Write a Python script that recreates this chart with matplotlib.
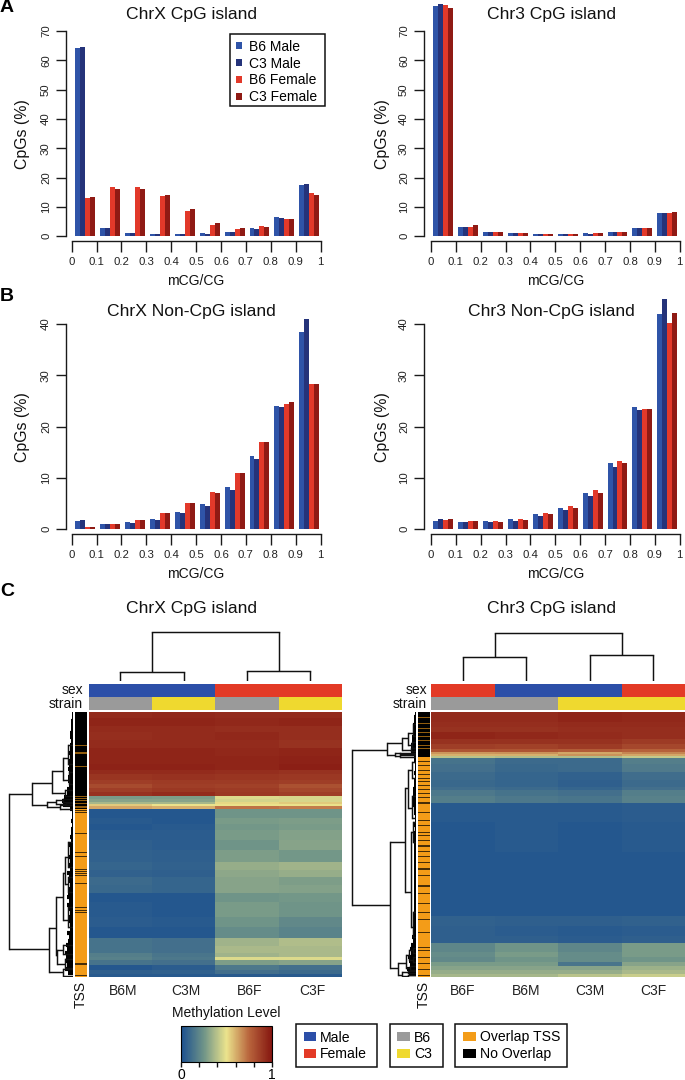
import numpy as np
import matplotlib
matplotlib.use("Agg")
import matplotlib.pyplot as plt
from matplotlib.colors import LinearSegmentedColormap
from matplotlib.patches import Patch, Rectangle
from matplotlib.cm import ScalarMappable

plt.rcParams['font.family'] = ['Liberation Sans', 'DejaVu Sans']

W, H = 685, 1080
# ---------- bar data ----------
bins = [0, .1, .2, .3, .4, .5, .6, .7, .8, .9]
bin_labels = ['0', '0.1', '0.2', '0.3', '0.4', '0.5', '0.6', '0.7', '0.8', '0.9', '1']
series_names = ['B6 Male', 'C3 Male', 'B6 Female', 'C3 Female']
series_colors = ['#2f54a8', '#25337a', '#e2392a', '#8f1a14']

chrx_cpg = [[64.1, 2.7, 1.2, 0.9, 0.8, 1.0, 1.5, 2.9, 6.6, 17.5],
            [64.7, 2.7, 1.0, 0.9, 0.8, 0.9, 1.4, 2.5, 6.3, 18.0],
            [13.2, 16.9, 16.7, 13.9, 8.5, 3.9, 2.6, 3.4, 5.9, 14.6],
            [13.3, 16.1, 16.2, 14.0, 9.3, 4.4, 2.9, 3.2, 6.0, 14.1]]
chr3_cpg = [[78.4, 3.3, 1.5, 1.0, 0.9, 0.8, 1.0, 1.6, 3.0, 8.0],
            [79.1, 3.3, 1.5, 1.0, 0.8, 0.7, 0.8, 1.5, 2.7, 8.0],
            [78.9, 3.2, 1.4, 1.1, 0.9, 0.8, 1.0, 1.5, 2.9, 8.0],
            [77.8, 3.7, 1.6, 1.1, 0.9, 0.8, 1.1, 1.5, 2.9, 8.4]]
chrx_non = [[1.6, 1.0, 1.4, 2.1, 3.4, 4.9, 8.2, 14.3, 24.0, 38.5],
            [1.8, 1.0, 1.2, 1.8, 3.1, 4.5, 7.6, 13.6, 23.8, 41.0],
            [0.5, 1.0, 1.9, 3.2, 5.2, 7.2, 10.9, 17.0, 24.5, 28.3],
            [0.5, 1.0, 1.9, 3.2, 5.1, 7.0, 10.9, 17.0, 24.8, 28.4]]
chr3_non = [[1.7, 1.4, 1.7, 2.0, 2.9, 4.1, 7.0, 13.0, 23.8, 41.9],
            [2.0, 1.5, 1.4, 1.7, 2.6, 3.7, 6.4, 12.2, 23.3, 44.8],
            [1.9, 1.6, 1.7, 2.1, 3.2, 4.5, 7.6, 13.4, 23.5, 40.1],
            [2.0, 1.6, 1.5, 1.9, 2.9, 4.2, 7.0, 12.9, 23.5, 42.2]]

# ---------- heat map data: row bands (top to bottom) ----------
x_edges = [0, 6, 14, 20, 28, 36, 44, 52, 58, 62, 68, 72, 76, 80, 84, 87, 90, 92, 94, 97,
           106, 112, 118, 128, 138, 150, 158, 165, 173, 181, 190, 205, 215, 226, 234, 241,
           245, 248, 253, 258, 262, 265]
x_b6m = [.93, .95, .93, .92, .93, .95, .95, .96, .93, .90, .87, .83, .87, .91, .27, .30, .36, .55, .62,
         .03, .04, .03, .05, .06, .07, .08, .07, .10, .09, .03, .04, .05, .03, .13, .13, .17, .18, .13, .03, .06, .04]
x_c3m = [.94, .95, .93, .93, .93, .95, .95, .96, .93, .91, .88, .87, .89, .93, .28, .30, .36, .50, .60,
         .03, .03, .04, .05, .05, .06, .07, .06, .08, .08, .03, .03, .04, .03, .12, .12, .14, .15, .12, .05, .07, .04]
x_b6f = [.93, .94, .92, .94, .93, .94, .95, .95, .92, .90, .88, .86, .88, .89, .47, .45, .52, .50, .72,
         .25, .27, .26, .27, .25, .28, .33, .31, .30, .30, .25, .27, .25, .22, .35, .37, .35, .47, .28, .15, .12, .04]
x_c3f = [.93, .95, .92, .92, .91, .95, .96, .97, .91, .89, .87, .81, .84, .87, .46, .46, .55, .50, .70,
         .25, .28, .27, .29, .30, .26, .35, .33, .28, .29, .26, .25, .21, .19, .38, .37, .37, .47, .30, .12, .10, .04]
x_tss_overlap = [(33, .7), (40.5, 1.2), (54.5, .7), (76.7, .7), (84, 1), (86, 1), (88, 1), (91.5, .8), (94.5, 1.3)]
x_tss_black = [(98, 1), (100.5, .6), (104, .6), (108.7, .8), (112, .6), (116, .6), (121, .7), (124.7, .6), (129.7, .7),
               (132, .6), (136, .6), (140, .7), (144, .7), (157.5, .7), (159.5, .8), (161.5, .8), (163.5, .7),
               (171, .7), (176, .7), (193, .7), (195.5, .8), (198, .8), (200.5, .8), (203, .7), (209, .7), (213, .7),
               (219, .7), (225, .7), (239, .7), (243, .7), (251, 2.6), (259, .7), (263, .8)]
x_leaf_len = [1, 1, 2, 2, 2, 3, 3, 2, 3, 3, 4, 3, 4, 4, 5, 4, 5, 5, 4, 6, 6, 9, 11, 10, 3, 1, 1, 2, 1, 2,
              2, 3, 2, 4, 3, 3, 5, 3, 4, 3, 6, 4, 5, 3, 5, 5, 6, 4, 6, 4, 3, 5, 4, 3, 3, 6, 4, 5, 7, 6, 8, 7, 8, 6, 8, 5]
x_tree = (0, 64, [
    (82, 41.3, [
        (71, 21.3, [
            (58.7, 10.3, [
                (46, 5, [(33, 0, []), (52, 0, [])]),
                (68, 4, [(60, 0, []), (72, 0, [])])]),
            (81, 8, [(78, 0, []), (84, 0, [])])]),
        (93, 25.7, [
            (89.7, 17, [
                (88, 10, [(87, 0, []), (90, 0, [])]),
                (92, 7, [(91, 0, []), (93, 0, [])])]),
            (94.7, 13, [(93, 0, []), (97, 0, [])])])]),
    (237, 24, [
        (216, 17.3, [
            (185, 10.3, [
                (161, 8, [
                    (145, 5, [(130, 0, []), (155, 0, [])]),
                    (172, 5, [(165, 0, []), (180, 0, [])])]),
                (208, 5, [(195, 0, []), (215, 0, [])])]),
            (243, 15.7, [
                (238, 10, [(233, 0, []), (242, 0, [])]),
                (252, 8, [(247, 0, []), (256, 0, [])])])]),
        (260, 10, [(257, 0, []), (264, 0, [])])])])

r_edges = [0, 10, 15, 20, 27, 32, 37, 40, 42, 44, 46, 52, 60, 68, 75, 78, 84, 91, 110, 140, 175, 204, 214, 224, 231,
           240, 245, 250, 254, 258, 262, 265]
r_b6f = [.93, .92, .91, .95, .91, .87, .80, .65, .60, .40, .13, .12, .10, .09, .11, .15, .17, .04, .03, .03, .03, .07,
         .06, .06, .20, .22, .21, .27, .30, .33, .36]
r_b6m = [.93, .92, .91, .94, .91, .86, .80, .66, .60, .38, .10, .09, .08, .08, .10, .13, .15, .04, .04, .03, .03, .06,
         .05, .06, .25, .27, .25, .27, .30, .33, .36]
r_c3m = [.95, .93, .92, .93, .91, .88, .78, .62, .66, .38, .10, .10, .07, .06, .08, .12, .14, .04, .03, .03, .03, .06,
         .04, .05, .20, .22, .22, .14, .30, .33, .40]
r_c3f = [.94, .93, .92, .92, .88, .84, .76, .68, .62, .42, .17, .16, .11, .10, .12, .17, .18, .05, .04, .03, .03, .07,
         .05, .06, .27, .27, .25, .30, .34, .37, .43]
r_tss_overlap = [(5, .7), (11, .8), (16, .8), (20, .7), (24, .6), (28, .6), (33, .6), (36, .7)]
r_tss_black = [(49, .6), (53, .6), (58, .6), (62, .7), (66, .6), (69, .7), (73, .7), (77, .8), (81, .8), (85, .8),
               (90, 2), (100, .8), (108, 1.5), (113, 1.5), (120, .8), (123, 1.5), (128, 1), (133, 2), (139, 1.5), (144, 1),
               (150, 1), (156, 2), (163, 1), (173, 2), (181, .8), (191, .8), (200, .8), (207, 1), (220, 1), (227, .7),
               (235, 1.5), (238, 1.5), (245, 1), (251, .8), (257, 1), (263, .8)]
r_leaf_len = [1, 2, 2, 3, 3, 3, 4, 4, 5, 5, 5, 2, 2, 1, 1, 2, 1, 2, 2, 3, 3, 3, 3, 3, 2, 2, 1, 1, 2, 1, 2, 2, 2, 2, 2, 2,
              2, 2, 2, 2, 2, 2, 2, 2, 2, 2, 2, 2, 2, 2, 2, 2, 2, 3, 3, 3, 4, 3, 5, 6, 5, 8, 7, 6, 9, 7]
r_tree = (0, 64.6, [
    (38, 29, [
        (31.3, 14.6, [
            (26, 8.6, [
                (21, 3, [(12, 0, []), (24, 0, [])]),
                (33, 4, [(30, 0, []), (36, 0, [])])]),
            (38, 5, [(36, 0, []), (39, 0, [])])]),
        (43, 21, [(41.5, 16, [(41, 0, []), (42, 0, [])]), (44, 16, [(43.5, 0, []), (45, 0, [])])])]),
    (193, 26.3, [
        (130, 11, [
            (76, 8.3, [(58, 4, [(50, 0, []), (66, 0, [])]), (96, 4, [(84, 0, []), (106, 0, [])])]),
            (180, 5.6, [(120, 3, [(110, 0, []), (130, 0, [])]), (215, 3, [(200, 0, []), (225, 0, [])])])]),
        (256, 18, [
            (251, 10.3, [
                (243, 7, [(238, 3, [(236, 0, []), (241, 0, [])]), (248, 3, [(245, 0, []), (250, 0, [])])]),
                (256, 6, [(254, 0, []), (258, 0, [])])]),
            (263, 14, [(260, 8, [(259, 0, []), (261, 0, [])]), (264, 8, [(263, 0, []), (265, 0, [])])])])])])

# column dendrograms: (position in columns, height, children)
x_col_tree = (0, 48.4, [(1.0, 8.4, [(.5, 0, []), (1.5, 0, [])]), (3.0, 10, [(2.5, 0, []), (3.5, 0, [])])])
r_col_tree = (0, 48, [(1.0, 24, [(.5, 0, []), (1.5, 0, [])]), (3.0, 26, [(2.5, 0, []), (3.5, 0, [])])])

x_cols = ['B6M', 'C3M', 'B6F', 'C3F']
r_cols = ['B6F', 'B6M', 'C3M', 'C3F']
sex_colors = {'M': '#2c4fa8', 'F': '#e33a26'}
strain_colors = {'B6': '#9a9a9a', 'C3': '#efd92f'}
tss_colors = {'overlap': '#f39c18', 'none': '#000000'}

cmap = LinearSegmentedColormap.from_list('meth', [(0, '#1b4f8f'), (.25, '#6f9488'), (.5, '#ebe38c'),
                                                  (.75, '#b8643c'), (1, '#851610')])

fig = plt.figure(figsize=(W / 100, H / 100), dpi=100)


def pax(x0, x1, y0, y1):
    return fig.add_axes([x0 / W, 1 - y1 / H, (x1 - x0) / W, (y1 - y0) / H])


def ptext(x, y, s, **kw):
    kw.setdefault('ha', 'center')
    kw.setdefault('va', 'center')
    fig.text(x / W, 1 - y / H, s, **kw)


def pbox(x0, x1, y0, y1):
    fig.add_artist(Rectangle((x0 / W, 1 - y1 / H), (x1 - x0) / W, (y1 - y0) / H, transform=fig.transFigure,
                             facecolor='white', edgecolor='#111111', lw=1.1, zorder=3))


def barpanel(x0, x1, y0, y1, ymax, data, title, tx, ty, offset, axis_gap):
    ax = pax(x0, x1, y1, y0)
    width = .02
    for i, (vals, c, n) in enumerate(zip(data, series_colors, series_names)):
        ax.bar(np.array(bins) + offset + i * width, vals, width, align='edge', color=c, lw=0, clip_on=False, label=n)
    ax.set_xlim(0, 1)
    ax.set_ylim(0, ymax)
    ax.patch.set_alpha(0)
    for s in ('top', 'right'):
        ax.spines[s].set_visible(False)
    for s in ('left', 'bottom'):
        ax.spines[s].set_linewidth(1.0)
        ax.spines[s].set_color('#1a1a1a')
    ax.spines['left'].set_position(('outward', axis_gap * .72))
    ax.spines['bottom'].set_position(('outward', 3.6))
    ax.spines['bottom'].set_bounds(0, 1)
    ax.spines['left'].set_bounds(0, ymax)
    ax.set_xticks(np.arange(11) / 10, bin_labels, fontsize=8.2, color='#222222')
    ax.set_yticks(np.arange(0, ymax + 1, 10))
    ax.tick_params(axis='x', length=8, width=1, pad=3.2, color='#1a1a1a')
    ax.tick_params(axis='y', length=7.2, width=1, pad=3.6, color='#1a1a1a', labelsize=8.2, labelcolor='#222222')
    for t in ax.get_yticklabels():
        t.set_rotation(90)
        t.set_va('center')
    ax.set_ylabel('CpGs (%)', fontsize=11.4, color='#111111')
    ax.yaxis.set_label_coords(-41.5 / (x1 - x0), .5)
    ax.set_xlabel('mCG/CG', fontsize=10, color='#111111')
    ax.xaxis.set_label_coords(.5, -38 / (y0 - y1))
    ax.set_title(title, fontsize=12.6, color='#111111', va='center', pad=0,
                 x=(tx - x0) / (x1 - x0), y=(y0 - ty) / (y0 - y1))
    return ax


axA = barpanel(71.7, 320.5, 236.3, 31, 70, chrx_cpg, 'ChrX CpG island', 191.7, 15, .0147, 5.7)
barpanel(431, 679.7, 236.3, 31, 70, chr3_cpg, 'Chr3 CpG island', 551.7, 15, .0098, 7)
barpanel(71.7, 320.5, 529.3, 324, 40, chrx_non, 'ChrX Non-CpG island', 191.7, 311.7, .0147, 5.7)
barpanel(431, 679.7, 529.3, 324, 40, chr3_non, 'Chr3 Non-CpG island', 551.7, 311.7, .0098, 7)

# legend of panel A: frame drawn separately for an exact size
pbox(230.3, 324.7, 34.3, 106.3)
hA, lA = axA.get_legend_handles_labels()
lgA = fig.legend(hA, lA, loc='upper left', bbox_to_anchor=(236.3 / W, 1 - 39.6 / H), frameon=False, fontsize=10,
                 handlelength=.42, handleheight=.42, handletextpad=.5, labelspacing=.21, borderpad=0, borderaxespad=0)
lgA.set_zorder(4)

ptext(7, 7, 'A', fontsize=14, fontweight='bold')
ptext(7, 296, 'B', fontsize=14, fontweight='bold')
ptext(7, 592, 'C', fontsize=14, fontweight='bold')


def draw_tree(ax, node, vertical=False):
    pos, h, kids = node
    if not kids:
        return
    ps = [k[0] for k in kids]
    if vertical:
        ax.plot([min(ps), max(ps)], [h, h], color='#111111', lw=1.05, solid_capstyle='projecting')
    else:
        ax.plot([h, h], [min(ps), max(ps)], color='#111111', lw=1.05, solid_capstyle='projecting')
    for k in kids:
        if vertical:
            ax.plot([k[0], k[0]], [k[1], h], color='#111111', lw=1.05, solid_capstyle='butt')
        else:
            ax.plot([k[1], h], [k[0], k[0]], color='#111111', lw=1.05, solid_capstyle='butt')
        draw_tree(ax, k, vertical)


def heat(x0, x1, edges, cols, col_names, sex, strain, tss_on, tss_off, leaf, tree, col_tree, title, tx,
         dend_l, dend_r, tss_l, tss_r, label_x, black_end, label_shift):
    y0, y1 = 712, 976.7
    ax = pax(x0, x1, y0, y1)
    ax.pcolormesh(np.arange(5), edges, np.array(cols).T, cmap=cmap, vmin=0, vmax=1, shading='flat')
    ax.set_ylim(265, 0)
    ax.set_xticks(np.arange(4) + .5 + label_shift, col_names, fontsize=10, color='#222222')
    ax.tick_params(axis='x', length=0, pad=5)
    ax.set_yticks([])
    for s in ax.spines.values():
        s.set_visible(False)
    # annotation strips
    a = pax(x0, x1, 684.3, 697)
    for i, s in enumerate(sex):
        a.axvspan(i, i + 1, color=sex_colors[s], lw=0)
    a.set_xlim(0, 4)
    a.axis('off')
    a = pax(x0, x1, 697, 710)
    for i, s in enumerate(strain):
        a.axvspan(i, i + 1, color=strain_colors[s], lw=0)
    a.set_xlim(0, 4)
    a.axis('off')
    ptext(label_x, 690.5, 'sex', ha='right', fontsize=10, color='#111111')
    ptext(label_x, 704, 'strain', ha='right', fontsize=10, color='#111111')
    # TSS strip
    t = pax(tss_l, tss_r, y0, y1)
    t.axhspan(0, black_end, color=tss_colors['none'], lw=0)
    t.axhspan(black_end, 265, color=tss_colors['overlap'], lw=0)
    t.barh([r for r, _ in tss_on], 1, [w for _, w in tss_on], align='edge', color=tss_colors['overlap'], lw=0, alpha=.6)
    t.barh([r for r, _ in tss_off], 1, [w for _, w in tss_off], align='edge', color=tss_colors['none'], lw=0, alpha=.7)
    t.set_ylim(265, 0)
    t.set_xlim(0, 1)
    t.axis('off')
    ptext((tss_l + tss_r) / 2, 995, 'TSS', rotation=90, fontsize=10, color='#111111')
    # row dendrogram
    d = pax(dend_l, dend_r, y0, y1)
    rows = np.arange(len(leaf)) * 4 + 1
    d.hlines(rows, 0, leaf, color='black', lw=3)
    draw_tree(d, tree)
    d.set_xlim(dend_r - dend_l, 0)
    d.set_ylim(265, 0)
    d.axis('off')
    # column dendrogram
    c = pax(x0, x1, 630, 680.7)
    draw_tree(c, col_tree, vertical=True)
    c.set_xlim(0, 4)
    c.set_ylim(0, 50.7)
    c.axis('off')
    ptext(tx, 608, title, fontsize=12.6, color='#111111')


heat(88.7, 342, x_edges, [x_b6m, x_c3m, x_b6f, x_c3f], x_cols, 'MMFF', ['B6', 'C3', 'B6', 'C3'],
     x_tss_overlap, x_tss_black, x_leaf_len, x_tree, x_col_tree, 'ChrX CpG island', 191.7, 8, 73, 74.7, 86.7, 83, 97, .04)
heat(431, 685, r_edges, [r_b6f, r_b6m, r_c3m, r_c3f], r_cols, 'FMMF', ['B6', 'B6', 'C3', 'C3'],
     r_tss_overlap, r_tss_black, r_leaf_len, r_tree, r_col_tree, 'Chr3 CpG island', 551.7, 351, 416.3, 417.7, 429.7, 427, 45, 0)

# colour bar
cax = pax(181, 272, 1025.7, 1061.7)
cb = fig.colorbar(ScalarMappable(cmap=cmap), cax=cax, orientation='horizontal', ticks=[0, .2, .4, .6, .8, 1])
cb.set_ticklabels(['0', '', '', '', '', '1'], fontsize=10)
cb.ax.tick_params(length=3.6, width=1, pad=1, color='#111111')
cb.outline.set_linewidth(.8)
ptext(226, 1013, 'Methylation Level', fontsize=10, color='#111111')

# bottom legends: frames drawn separately for an exact size
common = dict(frameon=False, fontsize=10.1, handlelength=.9, handleheight=.55, handletextpad=.28, labelspacing=.2,
              borderpad=0, borderaxespad=0, loc='upper left')
for (bx0, bx1, hx), labels, colors in [((295.7, 377.3, 303.7), ['Male', 'Female'], [sex_colors['M'], sex_colors['F']]),
                                       ((389.7, 442.7, 397.3), ['B6', 'C3'], [strain_colors['B6'], strain_colors['C3']]),
                                       ((455.3, 567.3, 463), ['Overlap TSS', 'No Overlap'],
                                        [tss_colors['overlap'], tss_colors['none']])]:
    pbox(bx0, bx1, 1024, 1067.3)
    lg = fig.legend(handles=[Patch(color=c, label=l, lw=0) for c, l in zip(colors, labels)],
                    bbox_to_anchor=(hx / W, 1 - 1030.5 / H), **common)
    lg.set_zorder(4)

fig.savefig('out.png', dpi=100)
